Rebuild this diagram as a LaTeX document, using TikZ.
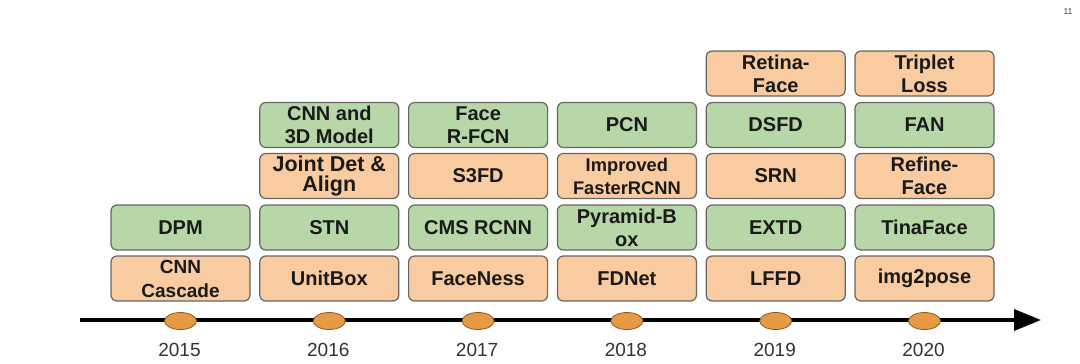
\documentclass[tikz,border=0pt]{standalone}
\usepackage{fontspec}
\setmainfont{Liberation Sans}
\usetikzlibrary{arrows.meta,shapes.geometric}
\definecolor{peach}{HTML}{F8CBA0}
\definecolor{sage}{HTML}{B7D7A8}
\definecolor{edge}{HTML}{666666}
\definecolor{dotfill}{HTML}{E69A45}
\definecolor{dotedge}{HTML}{8A5A24}
\definecolor{txt}{HTML}{1A1A1A}
\tikzset{
  boxbase/.style={draw=edge, line width=1.2pt, rounded corners=6pt, minimum width=139pt, minimum height=45pt, inner sep=0pt, align=center, text=txt, font=\bfseries\fontsize{20}{23}\selectfont},
  obox/.style={boxbase, fill=peach},
  gbox/.style={boxbase, fill=sage},
  dot/.style={ellipse, draw=dotedge, line width=0.8pt, fill=dotfill, minimum width=32pt, minimum height=17pt, inner sep=0pt},
  yearlbl/.style={text=black!80, font=\fontsize{19}{20}\selectfont, inner sep=0pt},
  timeline/.style={line width=3.5pt, black, -{Triangle[length=27pt,width=21pt]}}
}
\begin{document}
\begin{tikzpicture}[x=1pt,y=-1pt]
\useasboundingbox (0,0) rectangle (1080,364);
\fill[white] (0,0) rectangle (1080,364);
\node[font=\fontsize{8.5}{10}\selectfont, text=black!75, inner sep=0pt] (pg) at (1068,12) {11};
% timeline
\coordinate (tstart) at (80,320);
\coordinate (tend) at (1041,320);
\draw[timeline] (tstart) -- (tend);
% columns
\foreach \yr/\i in {2015/0,2016/1,2017/2,2018/3,2019/4,2020/5}{
  \node[dot] (e\yr) at ({180.5+148.8*\i},321) {};
  \node[yearlbl] (y\yr) at ({179.5+148.8*\i},350) {\yr};
}
% 2015
\node[obox,font=\bfseries\fontsize{19}{24}\selectfont] (b15a) at (180.5,278.5) {CNN\\Cascade};
\node[gbox] (b15b) at (180.5,227.5) {DPM};
% 2016
\node[obox] (b16a) at (329.3,278.5) {UnitBox};
\node[gbox] (b16b) at (329.3,227.5) {STN};
\node[obox,font=\bfseries\fontsize{21.5}{20.5}\selectfont] (b16c) at (329.3,176) {Joint Det \&\\Align};
\node[gbox] (b16d) at (329.3,125) {CNN and\\3D Model};
% 2017
\node[obox] (b17a) at (478.1,278.5) {FaceNess};
\node[gbox] (b17b) at (478.1,227.5) {CMS RCNN};
\node[obox] (b17c) at (478.1,176) {S3FD};
\node[gbox] (b17d) at (478.1,125) {Face\\R-FCN};
% 2018
\node[obox] (b18a) at (626.9,278.5) {FDNet};
\node[gbox] (b18b) at (626.9,227.5) {Pyramid-B\\ox};
\node[obox,font=\bfseries\fontsize{18.3}{23}\selectfont] (b18c) at (626.9,176) {Improved\\FasterRCNN};
\node[gbox] (b18d) at (626.9,125) {PCN};
% 2019
\node[obox] (b19a) at (775.7,278.5) {LFFD};
\node[gbox] (b19b) at (775.7,227.5) {EXTD};
\node[obox] (b19c) at (775.7,176) {SRN};
\node[gbox] (b19d) at (775.7,125) {DSFD};
\node[obox] (b19e) at (775.7,73.5) {Retina-\\Face};
% 2020
\node[obox] (b20a) at (924.5,278.5) {img2pose};
\node[gbox] (b20b) at (924.5,227.5) {TinaFace};
\node[obox] (b20c) at (924.5,176) {Refine-\\Face};
\node[gbox] (b20d) at (924.5,125) {FAN};
\node[obox] (b20e) at (924.5,73.5) {Triplet\\Loss};
\end{tikzpicture}
\end{document}
